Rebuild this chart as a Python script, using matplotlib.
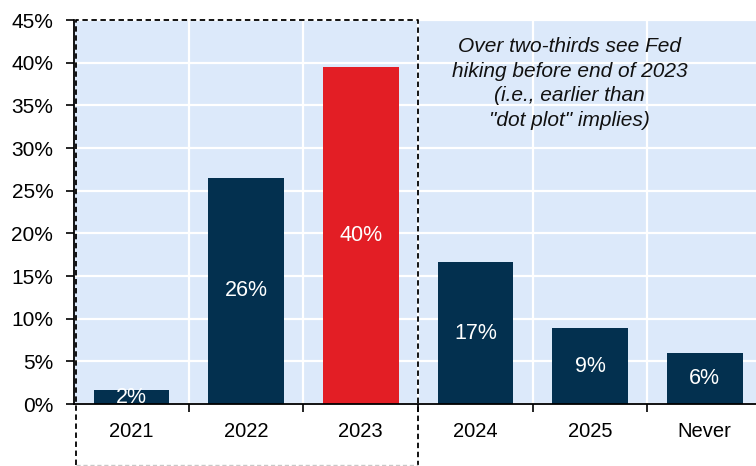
import matplotlib
matplotlib.use("Agg")
import matplotlib.pyplot as plt
import matplotlib.transforms as mtransforms

plt.rcParams["font.family"] = ["Liberation Sans", "DejaVu Sans"]

# data
years = ["2021", "2022", "2023", "2024", "2025", "Never"]
shares = [1.6, 26.5, 39.5, 16.6, 8.9, 6.0]
bar_labels = ["2%", "26%", "40%", "17%", "9%", "6%"]
y_ticks = [0, 5, 10, 15, 20, 25, 30, 35, 40, 45]

navy = "#03304f"
red = "#e31e25"
bg = "#dce9fa"
colors = [red if y == "2023" else navy for y in years]

fig = plt.figure(figsize=(7.56, 4.66), dpi=100)
ax = fig.add_axes([0.098, 0.133, 0.910, 0.824])
ax.set_facecolor(bg)

x = list(range(len(years)))
ax.bar(x, shares, width=0.66, color=colors, zorder=3)
for xi, v, lab in zip(x, shares, bar_labels):
    ax.text(xi, v / 2, lab, ha="center", va="center", color="white",
            fontsize=15.5, zorder=4)

ax.set_xlim(-0.5, len(years) - 0.5)
ax.set_ylim(0, 45)
ax.set_yticks(y_ticks)
ax.set_yticklabels([f"{t}%" for t in y_ticks], fontsize=15)

# category labels centred, ticks on the boundaries
ax.set_xticks([i + 0.5 for i in range(len(years) - 1)])
ax.set_xticklabels([])
ax.set_xticks(x, minor=True)
ax.set_xticklabels(years, minor=True, fontsize=14.5)
ax.tick_params(axis="x", which="minor", length=0, pad=13)
ax.tick_params(axis="x", which="major", length=6, width=1.2, direction="out")
ax.tick_params(axis="y", length=6, width=1.2, direction="out", pad=9)

ax.grid(True, axis="y", color="white", lw=1.6, zorder=1)
ax.grid(True, axis="x", which="major", color="white", lw=1.6, zorder=1)

for s in ["top", "right"]:
    ax.spines[s].set_visible(False)
ax.spines["left"].set_linewidth(1.3)
ax.spines["bottom"].set_linewidth(1.3)
ax.spines["left"].set_zorder(5)
ax.spines["bottom"].set_zorder(5)

# dashed box around 2021-2023 (x in data, y in axes fraction)
trans = mtransforms.blended_transform_factory(ax.transData, ax.transAxes)
bx0, bx1, by0, by1 = -0.48, 2.5, -0.158, 1.0
dash = (0, (3, 2))
ax.plot([bx0, bx0, bx1, bx1], [by0, by1, by1, by0], transform=trans,
        color="black", lw=1.3, ls=dash, clip_on=False, zorder=6)
ax.plot([bx0, bx1], [by0, by0], transform=trans,
        color="#c8c8c8", lw=1.0, ls=dash, clip_on=False, zorder=6)

ax.text(3.82, 0.955,
        "Over two-thirds see Fed\nhiking before end of 2023\n(i.e., earlier than\n\"dot plot\" implies)",
        transform=trans, ha="center", va="top", fontsize=15, style="italic",
        linespacing=1.37, color="#111111", zorder=6)

fig.savefig("out.png", dpi=100)
